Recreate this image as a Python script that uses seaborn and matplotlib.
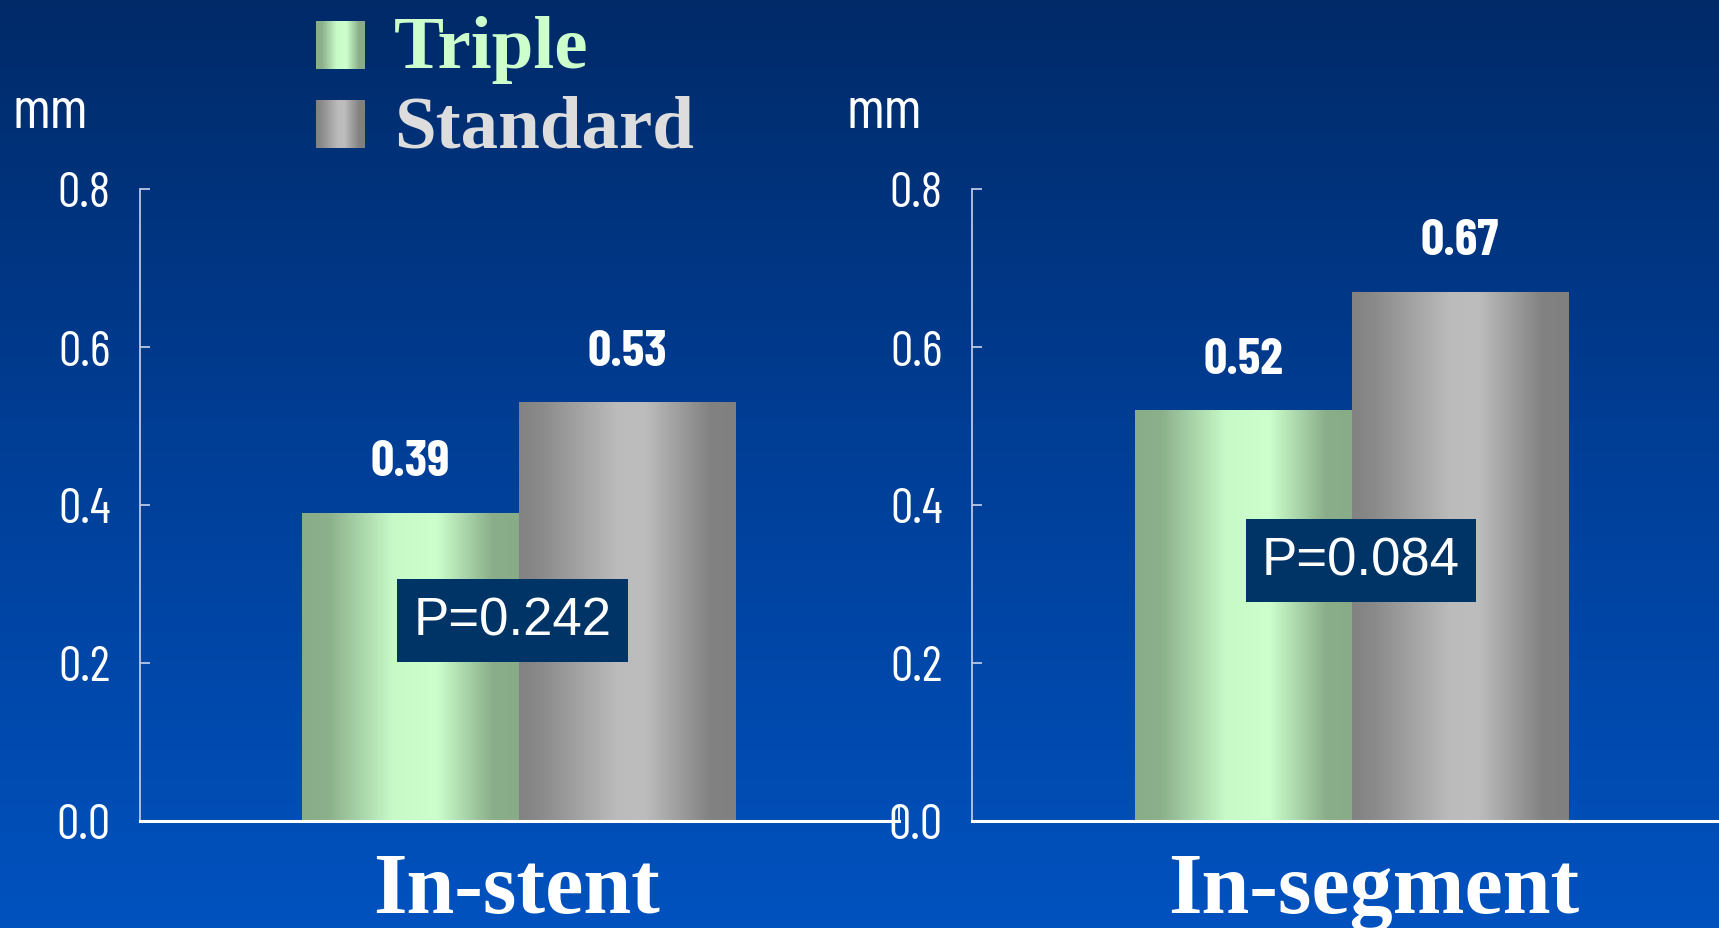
import numpy as np
import pandas as pd
import seaborn as sns
import matplotlib.pyplot as plt
from matplotlib import font_manager
from matplotlib.font_manager import FontProperties
from matplotlib.colors import LinearSegmentedColormap

# data
segments = ["In-stent", "In-segment"]
groups = ["Triple", "Standard"]
triple_vals = [0.39, 0.52]
standard_vals = [0.53, 0.67]
p_labels = ["P=0.242", "P=0.084"]
yticks = [0.0, 0.2, 0.4, 0.6, 0.8]

df = pd.DataFrame({
    "segment": segments * 2,
    "group": ["Triple"] * 2 + ["Standard"] * 2,
    "value": triple_vals + standard_vals,
})

sns.set_theme(style="white")
plt.rcParams["font.family"] = ["Liberation Sans", "DejaVu Sans"]

# narrow sans for the numbers: first family that has upright regular and bold files
fp_reg = FontProperties(family="Liberation Sans")
fp_bold = FontProperties(family="Liberation Sans", weight="bold")
for fam in ["Liberation Sans Narrow", "Barlow Condensed", "Roboto Condensed",
            "Asap Condensed"]:
    files = {f.weight: f.fname for f in font_manager.fontManager.ttflist
             if f.name == fam and f.style == "normal"}
    if 400 in files and 700 in files:
        fp_reg = FontProperties(fname=files[400])
        fp_bold = FontProperties(fname=files[700])
        break

W, H = 1719, 929
fig = plt.figure(figsize=(W / 100, H / 100), dpi=100)

# background gradient
bg = fig.add_axes([0, 0, 1, 1], zorder=-10)
bg_cmap = LinearSegmentedColormap.from_list("bg", ["#012a68", "#003f98", "#0052bf"])
bg.imshow(np.linspace(0, 1, 256).reshape(-1, 1), cmap=bg_cmap, aspect="auto",
          extent=[0, 1, 0, 1], origin="upper")
bg.axis("off")

green_cmap = LinearSegmentedColormap.from_list("g", [
    (0, "#88ad88"), (0.12, "#8bb08b"), (0.42, "#c8fac8"), (0.62, "#ccffcc"),
    (0.88, "#8aae8a"), (1, "#88ab88")])
grey_cmap = LinearSegmentedColormap.from_list("s", [
    (0, "#828282"), (0.1, "#8a8a8a"), (0.45, "#bbbbbb"), (0.58, "#bdbdbd"),
    (0.88, "#828282"), (1, "#808080")])
cmaps = {"Triple": green_cmap, "Standard": grey_cmap}
grad = np.linspace(0, 1, 256).reshape(1, -1)

axes_pos = [[140 / W, 107 / H, 759 / W, 632 / H],
            [972 / W, 107 / H, 747 / W, 632 / H]]
xlims = [(-0.700, 0.703), (-0.702, 0.679)]
box_xy = [(-0.011, 0.254), (0.017, 0.330)]

for i, seg in enumerate(segments):
    ax = fig.add_axes(axes_pos[i])
    ax.patch.set_alpha(0)
    sub = df[df["segment"] == seg]
    sns.barplot(data=sub, x="segment", y="value", hue="group", hue_order=groups,
                palette=["#ccffcc", "#bbbbbb"], width=0.8, legend=False, ax=ax)
    for patch, g in zip(ax.patches, groups):
        x0, w, h = patch.get_x(), patch.get_width(), patch.get_height()
        im = ax.imshow(grad, cmap=cmaps[g], aspect="auto",
                       extent=[x0, x0 + w, 0, h], zorder=2)
        im.set_clip_path(patch)
        patch.set_facecolor("none")
        patch.set_edgecolor("none")
        ax.annotate(f"{h:.2f}", (x0 + w / 2, h), xytext=(0, 27),
                    textcoords="offset points", ha="center", va="baseline",
                    color="white", fontproperties=fp_bold, fontsize=37)
    ax.set_xlim(*xlims[i])
    ax.set_ylim(0, 0.8)
    ax.set_yticks(yticks)
    ax.set_yticklabels([f"{v:.1f}" for v in yticks], fontproperties=fp_reg,
                       fontsize=36, color="white")
    ax.tick_params(axis="y", direction="in", length=7, width=1.3,
                   color="#b8c8e8", pad=21, left=True)
    if i == 0:
        ax.set_xticks([xlims[i][1]])
        ax.tick_params(axis="x", direction="in", length=10, width=1.3,
                       color="white", bottom=True)
    else:
        ax.set_xticks([])
    ax.set_xticklabels([])
    ax.set_xlabel("")
    ax.set_ylabel("")
    for s in ["top", "right"]:
        ax.spines[s].set_visible(False)
    ax.spines["left"].set_color("#b8c8e8")
    ax.spines["left"].set_linewidth(1.3)
    ax.spines["bottom"].set_color("white")
    ax.spines["bottom"].set_linewidth(2.2)
    ax.text(box_xy[i][0], box_xy[i][1], p_labels[i], ha="center",
            va="center", fontsize=38, color="white", zorder=5,
            bbox=dict(boxstyle="square,pad=0.31", fc="#003366", ec="none"))

# unit labels
for x in [13, 846]:
    fig.text(x / W, 1 - 113 / H, "mm", color="white", fontproperties=fp_reg,
             fontsize=42, va="center")

# category titles
fig.text(517 / W, 16 / H, segments[0], ha="center", va="baseline", color="white",
         fontsize=62, fontweight="bold", family="Liberation Serif")
fig.text(1374 / W, 16 / H, segments[1], ha="center", va="baseline", color="white",
         fontsize=62, fontweight="bold", family="Liberation Serif")

# legend
leg_colors = ["#ccffcc", "#dddddd"]
leg_y = [22, 101]
for g, c, y in zip(groups, leg_colors, leg_y):
    lax = fig.add_axes([316 / W, 1 - (y + 48) / H, 49 / W, 48 / H])
    lax.imshow(grad, cmap=cmaps[g], aspect="auto", extent=[0, 1, 0, 1])
    lax.axis("off")
    fig.text(394 / W, 1 - (y + 46) / H, g, color=c, fontsize=54,
             fontweight="bold", family="Liberation Serif", va="baseline")

fig.savefig("out.png", dpi=100)
